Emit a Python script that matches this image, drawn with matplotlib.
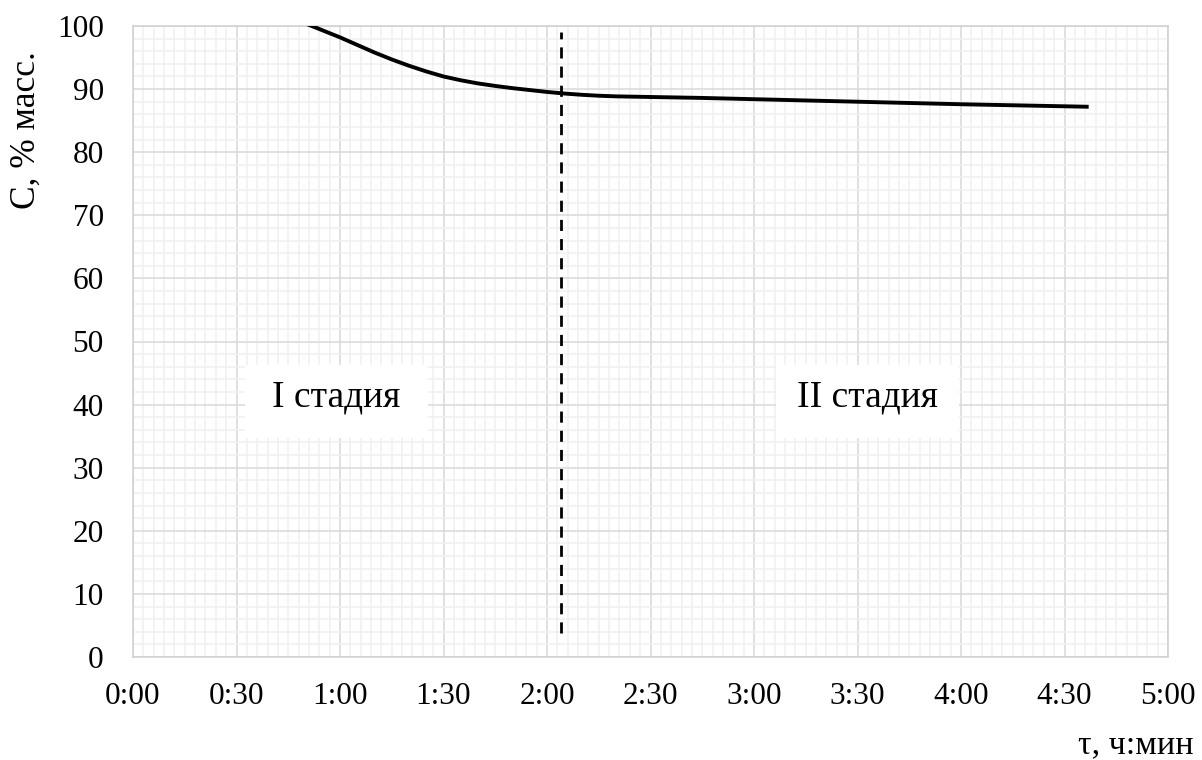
import matplotlib
matplotlib.use("Agg")
import matplotlib.pyplot as plt
from matplotlib.patches import Rectangle
from matplotlib.ticker import MultipleLocator, FuncFormatter

# Carbon content vs. time (minutes from start)
time_min = [45, 50, 55, 60, 65, 70, 75, 80, 85, 90, 95, 100, 105, 110, 115, 120,
            125, 130, 135, 140, 150, 165, 180, 210, 240, 277]
carbon = [101.8, 100.4, 99.3, 98.2, 97.0, 95.8, 94.7, 93.7, 92.8, 92.0, 91.4, 90.9,
          90.5, 90.15, 89.85, 89.55, 89.3, 89.1, 88.95, 88.85, 88.75, 88.6, 88.4,
          88.0, 87.6, 87.2]

# Boundary between the two stages
stage_boundary = 124
boundary_span = (3.8, 99.0)

# Stage captions: text, centre time, centre value
stage_labels = ["I стадия", "II стадия"]
stage_x = [59, 213]
stage_y = [40.5, 40.5]

x_max = 300
y_max = 100

plt.rcParams["font.family"] = ["Liberation Serif", "DejaVu Serif"]

fig = plt.figure(figsize=(12.02, 7.60), dpi=100)
W, H = 1202, 760
ax = fig.add_axes([133 / W, 1 - 657 / H, (1168 - 133) / W, (657 - 26) / H])

ax.set_xlim(0, x_max)
ax.set_ylim(0, y_max)

ax.xaxis.set_major_locator(MultipleLocator(30))
ax.xaxis.set_minor_locator(MultipleLocator(3))
ax.yaxis.set_major_locator(MultipleLocator(10))
ax.yaxis.set_minor_locator(MultipleLocator(2))
ax.xaxis.set_major_formatter(FuncFormatter(lambda v, p: f"{int(v) // 60}:{int(v) % 60:02d}"))

ax.grid(which="minor", color="#f0f0f0", linewidth=1.1, zorder=0)
ax.grid(which="major", color="#d9d9d9", linewidth=1.1, zorder=0.5)
ax.set_axisbelow(True)

for s in ax.spines.values():
    s.set_color("#d0d0d0")
    s.set_linewidth(1.1)

ax.tick_params(which="both", length=0)
ax.tick_params(axis="x", labelsize=22.5, pad=18)
ax.tick_params(axis="y", labelsize=22.5, pad=21)

# White caption boxes with stage names
box_w, box_h = 53, 11.6
for label, cx, cy in zip(stage_labels, stage_x, stage_y):
    ax.add_patch(Rectangle((cx - box_w / 2, cy - box_h / 2), box_w, box_h,
                           facecolor="white", edgecolor="none", zorder=1))
    ax.text(cx, cy + 0.6, label, fontsize=27, ha="center", va="center", zorder=2)

ax.plot(time_min, carbon, color="black", linewidth=2.8, solid_joinstyle="round",
        solid_capstyle="butt", zorder=3)
ax.plot([stage_boundary, stage_boundary], boundary_span, color="black",
        linewidth=2.0, dashes=(4, 2.9), zorder=3)

fig.text(26 / W, 1 - 130 / H, "С, % масс.", rotation=90, ha="center", va="center", fontsize=25.5)
fig.text(1136 / W, 1 - 745 / H, "τ, ч:мин", ha="center", va="center", fontsize=24.5)

fig.savefig("out.png", dpi=100, facecolor="white")
